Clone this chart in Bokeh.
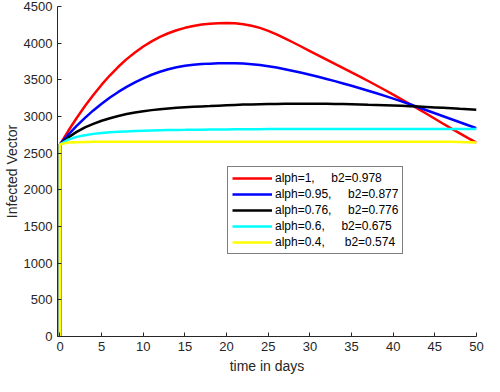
from bokeh.plotting import figure
from bokeh.models import Range1d, Legend, LegendItem, SingleIntervalTicker
from bokeh.embed import file_html
from bokeh.resources import INLINE

# time points (days): initial value at t=0 followed by daily values
t = [0] + list(range(0, 51))

red = [0,
       2620, 2805, 2980, 3143, 3294, 3434, 3562, 3678, 3782, 3874,
       3955, 4025, 4085, 4135, 4176, 4209, 4235, 4254, 4266, 4272,
       4274, 4270, 4258, 4238, 4208, 4168, 4120, 4066, 4009, 3951,
       3893, 3835, 3777, 3719, 3661, 3603, 3544, 3484, 3423, 3361,
       3298, 3234, 3170, 3104, 3037, 2969, 2901, 2834, 2769, 2706,
       2645]
blue = [0,
        2620, 2752, 2872, 2982, 3083, 3175, 3259, 3335, 3404, 3466,
        3521, 3569, 3610, 3644, 3671, 3691, 3705, 3715, 3721, 3725,
        3727, 3727, 3722, 3714, 3702, 3686, 3667, 3645, 3621, 3596,
        3569, 3541, 3512, 3482, 3451, 3419, 3386, 3352, 3317, 3281,
        3244, 3206, 3167, 3126, 3085, 3044, 3003, 2962, 2921, 2880,
        2840]
black = [0,
         2620, 2715, 2790, 2852, 2900, 2942, 2977, 3007, 3033, 3055,
         3073, 3087, 3099, 3110, 3119, 3126, 3132, 3137, 3142, 3148,
         3153, 3158, 3162, 3165, 3168, 3170, 3172, 3174, 3175, 3175,
         3175, 3174, 3173, 3171, 3169, 3167, 3164, 3160, 3157, 3153,
         3149, 3145, 3140, 3135, 3130, 3124, 3118, 3112, 3105, 3099,
         3092]
cyan = [0,
        2620, 2685, 2722, 2745, 2763, 2775, 2784, 2791, 2797, 2802,
        2806, 2810, 2813, 2815, 2817, 2818, 2820, 2821, 2822, 2823,
        2824, 2825, 2826, 2827, 2827, 2828, 2828, 2828, 2829, 2829,
        2829, 2829, 2829, 2829, 2829, 2829, 2829, 2829, 2829, 2829,
        2829, 2829, 2829, 2829, 2829, 2829, 2829, 2829, 2829, 2829,
        2829]
yellow = [0,
          2620, 2645, 2650, 2652, 2654, 2654, 2654, 2654, 2654, 2654,
          2654, 2654, 2654, 2654, 2654, 2654, 2654, 2654, 2654, 2654,
          2654, 2654, 2654, 2654, 2654, 2654, 2654, 2654, 2654, 2654,
          2654, 2654, 2654, 2654, 2654, 2654, 2654, 2654, 2654, 2654,
          2654, 2654, 2654, 2654, 2654, 2654, 2654, 2654, 2652, 2649,
          2646]

NB = "\u00a0"
labels = [
    "alph=1," + NB * 5 + "b2=0.978",
    "alph=0.95," + NB * 5 + "b2=0.877",
    "alph=0.76," + NB * 5 + "b2=0.776",
    "alph=0.6," + NB * 5 + "b2=0.675",
    "alph=0.4," + NB * 6 + "b2=0.574",
]
colors = ["#ff0000", "#0000ff", "#000000", "#00ffff", "#ffff00"]
series = [red, blue, black, cyan, yellow]

FONT = "Liberation Sans"
AX = "#262626"

p = figure(width=484, height=376, output_backend="svg", toolbar_location=None,
           x_range=Range1d(-0.3, 50), y_range=Range1d(0, 4500),
           min_border_top=6, min_border_right=8, min_border_left=0, min_border_bottom=0)
p.outline_line_color = None
p.xgrid.visible = False
p.ygrid.visible = False

items = []
for ys, c, lab in zip(series, colors, labels):
    r = p.line(t, ys, line_color=c, line_width=2.5)
    items.append(LegendItem(label=lab, renderers=[r]))

for ax in (p.xaxis[0], p.yaxis[0]):
    ax.axis_line_color = AX
    ax.major_tick_line_color = AX
    ax.major_tick_in = 4
    ax.major_tick_out = 0
    ax.minor_tick_line_color = None
    ax.major_label_text_font = FONT
    ax.major_label_text_font_size = "13px"
    ax.major_label_text_color = AX
    ax.major_label_text_line_height = 1.0
    ax.axis_label_text_font = FONT
    ax.axis_label_text_font_size = "14px"
    ax.axis_label_text_font_style = "normal"
    ax.axis_label_text_color = AX
    ax.axis_label_text_line_height = 1.0

p.xaxis[0].ticker = SingleIntervalTicker(interval=5, num_minor_ticks=0)
p.yaxis[0].ticker = SingleIntervalTicker(interval=500, num_minor_ticks=0)
p.xaxis[0].axis_label = "time in days"
p.yaxis[0].axis_label = "Infected Vector"
p.xaxis[0].major_label_standoff = 5
p.xaxis[0].axis_label_standoff = 4
p.yaxis[0].major_label_standoff = 5
p.yaxis[0].axis_label_standoff = 1

legend = Legend(items=items, location=(170, 82))
legend.label_text_font = FONT
legend.label_text_font_size = "12px"
legend.label_text_color = "#000000"
legend.glyph_width = 40
legend.glyph_height = 14
legend.label_height = 14
legend.label_standoff = 3
legend.spacing = 2
legend.padding = 4
legend.margin = 0
legend.border_line_color = "#000000"
legend.border_line_width = 1
legend.background_fill_color = "#ffffff"
legend.background_fill_alpha = 1
p.add_layout(legend, "center")

open("out.html", "w").write(file_html(p, INLINE))
